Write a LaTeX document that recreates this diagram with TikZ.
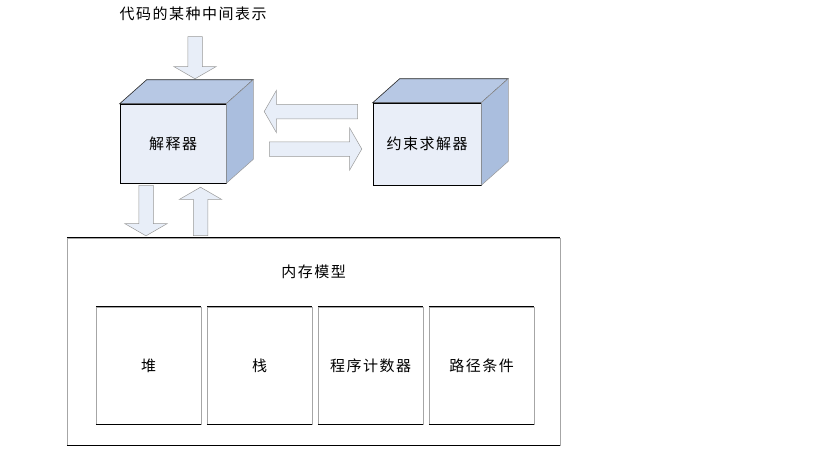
\documentclass[tikz,border=0pt]{standalone}
\usepackage{fontspec}
\setmainfont{Noto Sans CJK SC}[LetterSpace=10]
\usetikzlibrary{shapes.arrows, calc, positioning}

\definecolor{frontblue}{RGB}{233,238,248}
\definecolor{topblue}{RGB}{183,200,228}
\definecolor{sideblue}{RGB}{170,190,222}
\definecolor{arrowblue}{RGB}{232,238,248}

\tikzset{
  cubefront/.style={draw=black, line width=0.6pt, fill=frontblue, inner sep=0pt},
  blkarrow/.style={single arrow, draw=gray!80, fill=arrowblue, line width=0.5pt,
    inner sep=7pt, single arrow head extend=14pt, single arrow tip angle=120},
  plainbox/.style={draw=gray!70, line width=0.5pt, inner sep=0pt},
  hedge/.style={black, line width=1.2pt}
}

% cube faces behind a front node
\newcommand{\cubefaces}[1]{%
  \filldraw[fill=topblue, draw=black!85, line width=0.6pt] (#1.north west) -- ++(27,-24)
    -- ($(#1.north east)+(27,-24)$) -- (#1.north east) -- cycle;
  \filldraw[fill=sideblue, draw=gray!80, line width=0.5pt] (#1.north east) -- ++(27,-24)
    -- ($(#1.south east)+(27,-24)$) -- (#1.south east) -- cycle;}

% block arrow from one point to another
\newcommand{\blockarrow}[3]{%
  \path let \p1=(#2), \p2=(#3), \n1={atan2(\y2-\y1,\x2-\x1)},
    \n2={veclen(\x2-\x1,\y2-\y1)} in
    node[blkarrow, minimum height=\n2, rotate=\n1] (#1) at ({(\x1+\x2)/2},{(\y1+\y2)/2}) {};}

\begin{document}
\begin{tikzpicture}[x=1pt, y=-1pt, font=\fontsize{15}{17}\selectfont]
    \useasboundingbox (0,0) rectangle (819,460);

    % Interpreter and solver
    \node (code) at (193,14) {代码的某种中间表示};
    \node[cubefront, minimum width=106pt, minimum height=79pt] (interp) at (173,143.5) {解释器};
    \cubefaces{interp}
    \node[cubefront, minimum width=108pt, minimum height=82pt] (solver) at (427,144) {约束求解器};
    \cubefaces{solver}

    % Memory model
    \node[plainbox, minimum width=493pt, minimum height=207pt] (mem) at (313.5,341.5) {};
    \draw[hedge] (mem.north west) -- (mem.north east) (mem.south west) -- (mem.south east);
    \node (memtitle) at ($(mem.north)+(0,34)$) {内存模型};
    \foreach \t [count=\i] in {堆,栈,程序计数器,路径条件} {
        \node[plainbox, minimum width=105pt, minimum height=117pt] (m\i) at (96+111*\i-58.5,365.5) {\t};
        \draw[hedge] (m\i.north west) -- (m\i.north east) (m\i.south west) -- (m\i.south east);
    }

    % Block arrows
    \blockarrow{ain}{$(code.south)+(2,10)$}{$(interp.north)+(22,-27)$}
    \blockarrow{aback}{$(solver.west)+(-13,-32.5)$}{$(interp.east)+(40,-32)$}
    \blockarrow{ato}{$(interp.east)+(41,5.5)$}{$(solver.west)+(-13,5)$}
    \blockarrow{adown}{$(interp.south)+(-27,0)$}{$(mem.north)+(-167.5,-4)$}
    \blockarrow{aup}{$(mem.north)+(-113,0)$}{$(interp.south)+(27.5,6)$}
\end{tikzpicture}
\end{document}
